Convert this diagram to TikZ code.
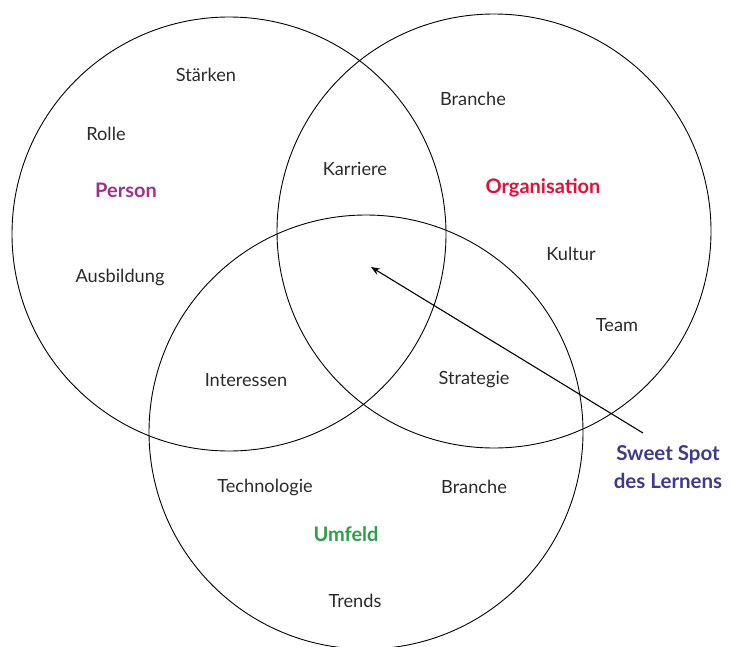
\documentclass[tikz,border=0pt]{standalone}
\usepackage{fontspec}
\setmainfont{Lato}
\usetikzlibrary{arrows.meta}
\definecolor{personcol}{HTML}{A0308A}
\definecolor{orgcol}{HTML}{E0103A}
\definecolor{umfeldcol}{HTML}{2E9E48}
\definecolor{spotcol}{HTML}{3E3A8C}
\definecolor{inkcol}{HTML}{2A2A2A}
\tikzset{
  x=1pt, y=-1pt,
  ring/.style={circle, draw=black, line width=0.9pt, minimum size=434pt, inner sep=0pt},
  term/.style={font=\fontsize{18.2}{21}\selectfont, text=inkcol, inner sep=0pt},
  title/.style={font=\fontsize{20}{24}\selectfont\bfseries, inner sep=0pt},
  pointer/.style={line width=1.1pt, -{Stealth[length=9pt,width=7pt]}}
}
\begin{document}
\begin{tikzpicture}
\useasboundingbox (0,0) rectangle (730,647);
% the three circles
\node[ring] (person) at (229,234) {};
\node[ring] (org) at (494,231) {};
\node[ring] (umfeld) at (366,432) {};
% set titles
\node[title, text=personcol] (tperson) at (126,190) {Person};
\node[title, text=orgcol] (torg) at (543,188) {Organisation};
\node[title, text=umfeldcol] (tumfeld) at (346,534) {Umfeld};
% terms
\node[term] (staerken) at (206,75) {Stärken};
\node[term] (rolle) at (106,134) {Rolle};
\node[term] (ausbildung) at (120,277) {Ausbildung};
\node[term] (karriere) at (355,169) {Karriere};
\node[term] (branche1) at (473,99) {Branche};
\node[term] (kultur) at (571,254) {Kultur};
\node[term] (team) at (617,325) {Team};
\node[term] (interessen) at (246,380) {Interessen};
\node[term] (strategie) at (474,380) {Strategie};
\node[term] (technologie) at (265,487) {Technologie};
\node[term] (branche2) at (474,487) {Branche};
\node[term] (trends) at (355,601) {Trends};
% sweet spot label and pointer
\node[title, text=spotcol, align=center, font=\fontsize{20.5}{28}\selectfont\bfseries] (spot) at (668,467) {Sweet Spot\\des Lernens};
\coordinate (tail) at (643,433);
\coordinate (centre) at (371,267);
\draw[pointer] (tail) -- (centre);
\end{tikzpicture}
\end{document}
